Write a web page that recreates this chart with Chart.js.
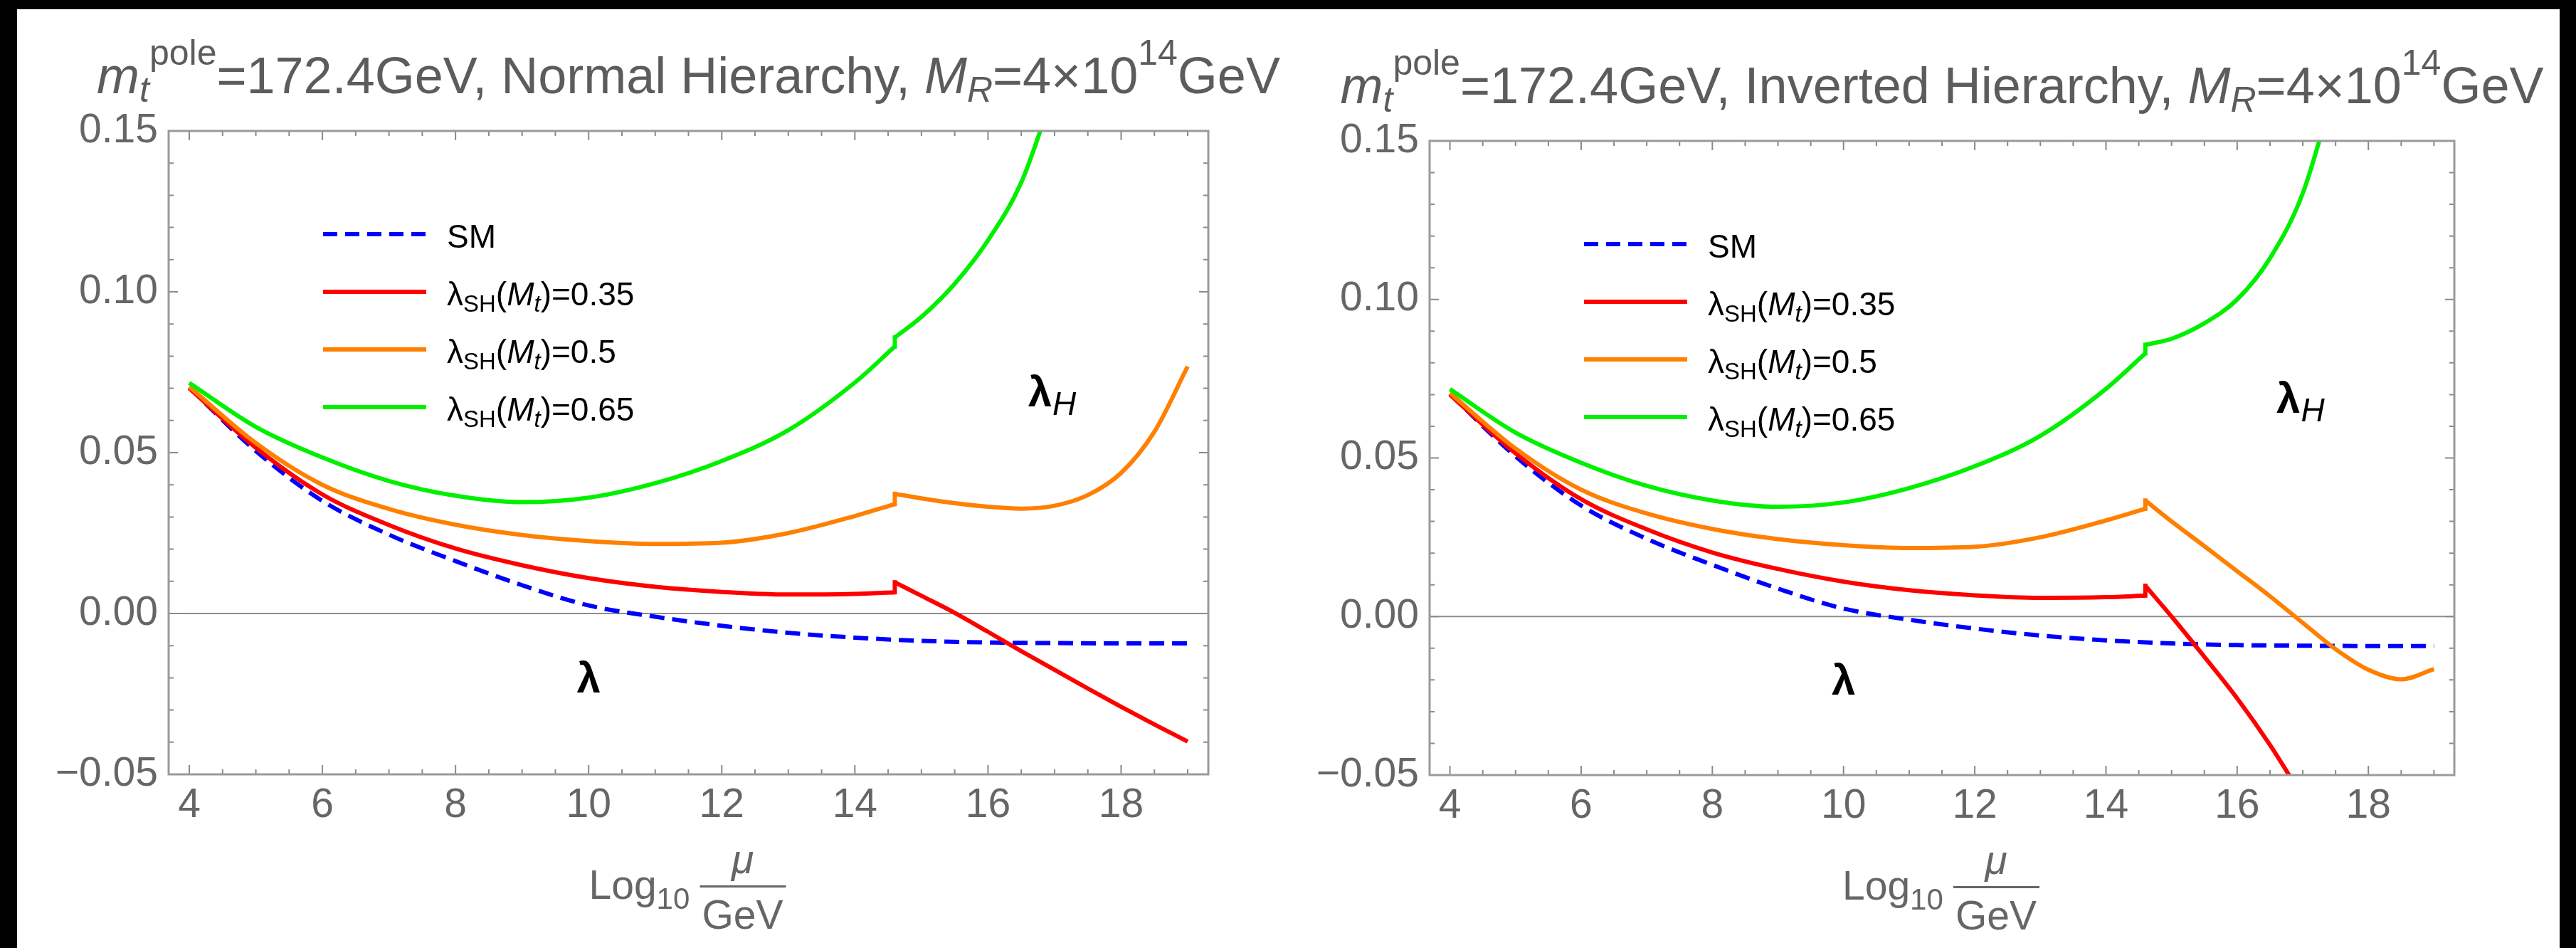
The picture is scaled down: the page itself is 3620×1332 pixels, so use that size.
<!DOCTYPE html>
<html>
<head>
<meta charset="utf-8">
<script src="https://cdn.jsdelivr.net/npm/chart.js@4.4.1/dist/chart.umd.min.js"></script>
<style>
  html, body { margin: 0; padding: 0; background: #000; }
  body { width: 3620px; height: 1332px; position: relative; overflow: hidden; }
  #sheet { position: absolute; left: 24px; top: 13px; width: 3573px; height: 1319px; background: #fff; }
  canvas { position: absolute; top: 0; }
</style>
</head>
<body>
<div id="sheet"></div>
<canvas id="nh" width="1810" height="1332" style="left:0px"></canvas>
<canvas id="ih" width="1810" height="1332" style="left:1810px"></canvas>
<script>
const FONT = '"Liberation Sans", Arial, Helvetica, sans-serif';

// log10(mu/GeV) grids: below and above M_R = 4x10^14 GeV
const xLow = [4, 5, 6, 7, 8, 9, 10, 11, 12, 13, 14, 14.6];
const xHigh = [14.6, 15, 15.5, 16, 16.5, 17, 17.5, 18, 18.5, 19];
const xSM = [4, 5, 6, 7, 8, 9, 10, 11, 12, 13, 14, 15, 16, 17, 18, 19];

// SM lambda (dashed)
const smLambda = [0.0702, 0.0505, 0.0350, 0.0245, 0.0163, 0.0088, 0.0025, -0.0010,
  -0.0038, -0.0060, -0.0075, -0.0085, -0.0090, -0.0092, -0.0093, -0.0093];

// lambda below M_R (same for both hierarchies)
const redLow = [0.0700, 0.0515, 0.0370, 0.0275, 0.0202, 0.0150, 0.0110, 0.0083, 0.0067, 0.0059, 0.0061, 0.0066];
const orangeLow = [0.0705, 0.0530, 0.0400, 0.0325, 0.0276, 0.0244, 0.0225, 0.0216, 0.0220, 0.0250, 0.0303, 0.0340];
const greenLow = [0.0717, 0.0580, 0.0485, 0.0412, 0.0366, 0.0346, 0.0360, 0.0405, 0.0474, 0.0570, 0.0718, 0.0830];

// lambda_H above M_R, normal hierarchy
const redHighNH = [0.0097, 0.0055, 0.0002, -0.0057, -0.0117, -0.0175, -0.0233, -0.0290, -0.0345, -0.0398];
const orangeHighNH = [0.0372, 0.0358, 0.0343, 0.0332, 0.0326, 0.0335, 0.0368, 0.0437, 0.0565, 0.0768];
const greenHighNH = [0.0858, 0.0922, 0.1025, 0.1160, 0.1340, 0.1630];

// lambda_H above M_R, inverted hierarchy
const redHighIH = [0.0097, 0.0000, -0.0127, -0.0258, -0.0405, -0.0570];
const orangeHighIH = [0.0366, 0.0300, 0.0222, 0.0143, 0.0064, -0.0020, -0.0103, -0.0168, -0.0198, -0.0166];
const greenHighIH = [0.0857, 0.0876, 0.0925, 0.1000, 0.1130, 0.1335, 0.1680];

const xTicks = [4, 6, 8, 10, 12, 14, 16, 18];
const xTickLabels = ['4', '6', '8', '10', '12', '14', '16', '18'];
const yTicks = [-0.05, 0, 0.05, 0.1, 0.15];
const yTickLabels = ['\u22120.05', '0.00', '0.05', '0.10', '0.15'];
const lamSHValues = ['0.35', '0.5', '0.65'];

const BLUE = '#0000ff', RED = '#ff0000', ORANGE = '#ff8000', GREEN = '#00f000';
const DASH = [21, 11];

function zip(xs, ys) {
  return ys.map((y, i) => ({ x: xs[i], y: y }));
}

function line(data, color, dash) {
  return {
    data: data,
    borderColor: color,
    borderWidth: 6,
    borderDash: dash || [],
    borderCapStyle: 'butt',
    pointRadius: 0,
    fill: false,
    cubicInterpolationMode: 'monotone',
    clip: 0
  };
}

// one coupling: curve below M_R, the jump at M_R, curve above M_R
function coupling(color, low, high) {
  const jump = line([{ x: xLow[xLow.length - 1], y: low[low.length - 1] }, { x: xHigh[0], y: high[0] }], color);
  jump.borderCapStyle = 'square';
  return [line(zip(xLow, low), color), jump, line(zip(xHigh, high), color)];
}

function richText(ctx, parts, x, y, align) {
  let w = 0;
  parts.forEach(p => {
    ctx.font = (p.i ? 'italic ' : '') + p.s + 'px ' + FONT;
    p.w = ctx.measureText(p.t).width;
    w += p.w;
  });
  let cx = align === 'center' ? x - w / 2 : x;
  ctx.textAlign = 'left';
  ctx.textBaseline = 'alphabetic';
  parts.forEach(p => {
    ctx.font = (p.i ? 'italic ' : '') + p.s + 'px ' + FONT;
    ctx.fillText(p.t, cx, y + (p.dy || 0));
    cx += p.w;
  });
}

const decor = {
  id: 'decor',
  beforeDatasetsDraw(chart) {
    const { ctx, chartArea: a, scales: { y } } = chart;
    const y0 = y.getPixelForValue(0);
    ctx.save();
    ctx.strokeStyle = '#8c8c8c';
    ctx.lineWidth = 2;
    ctx.beginPath();
    ctx.moveTo(a.left, y0);
    ctx.lineTo(a.right, y0);
    ctx.stroke();
    ctx.restore();
  },
  afterDatasetsDraw(chart) {
    const { ctx, chartArea: a, scales: { x, y } } = chart;
    ctx.save();
    ctx.strokeStyle = '#8a8a8a';
    ctx.lineWidth = 2;
    ctx.beginPath();
    for (let k = 8; k <= 38; k++) {
      const v = k / 2;
      const px = x.getPixelForValue(v);
      const len = v % 2 === 0 ? 13 : 7;
      ctx.moveTo(px, a.bottom); ctx.lineTo(px, a.bottom - len);
      ctx.moveTo(px, a.top); ctx.lineTo(px, a.top + len);
    }
    for (let k = -5; k <= 15; k++) {
      const py = y.getPixelForValue(k / 100);
      const len = k % 5 === 0 ? 13 : 7;
      ctx.moveTo(a.left, py); ctx.lineTo(a.left + len, py);
      ctx.moveTo(a.right, py); ctx.lineTo(a.right - len, py);
    }
    ctx.stroke();
    ctx.strokeStyle = '#9a9a9a';
    ctx.lineWidth = 3;
    ctx.strokeRect(a.left, a.top, a.right - a.left, a.bottom - a.top);
    ctx.restore();
  },
  afterDraw(chart, args, opts) {
    const { ctx, chartArea: a, scales: { x, y } } = chart;
    const cx = (a.left + a.right) / 2;
    ctx.save();

    // title
    ctx.fillStyle = '#5c5c5c';
    richText(ctx, [
      { t: 'm', s: 72, i: 1 }, { t: 't', s: 50, i: 1, dy: 12 }, { t: 'pole', s: 50, dy: -40 },
      { t: '=172.4GeV, ' + opts.hierarchy + ' Hierarchy, ', s: 72 },
      { t: 'M', s: 72, i: 1 }, { t: 'R', s: 50, i: 1, dy: 12 },
      { t: '=4\u00d710', s: 72 }, { t: '14', s: 50, dy: -40 }, { t: 'GeV', s: 72 }
    ], cx, a.top - 53, 'center');

    // x axis label: Log10 mu/GeV
    ctx.fillStyle = '#666';
    richText(ctx, [{ t: 'Log', s: 57 }, { t: '10', s: 42, dy: 14 }], cx - 140, a.bottom + 175);
    ctx.fillRect(cx + 16, a.bottom + 156, 121, 3);
    ctx.textAlign = 'center';
    ctx.font = 'italic 57px ' + FONT;
    ctx.fillText('\u03bc', cx + 76, a.bottom + 139);
    ctx.font = '57px ' + FONT;
    ctx.fillText('GeV', cx + 76, a.bottom + 217);

    // legend
    const lx0 = a.left + 217, lx1 = a.left + 362, tx = a.left + 391;
    const rows = [BLUE, RED, ORANGE, GREEN];
    rows.forEach((color, i) => {
      const ly = a.top + 145 + i * 81;
      ctx.strokeStyle = color;
      ctx.lineWidth = 6;
      ctx.setLineDash(i === 0 ? [20, 11] : []);
      ctx.beginPath();
      ctx.moveTo(lx0, ly);
      ctx.lineTo(lx1, ly);
      ctx.stroke();
      ctx.fillStyle = '#000';
      if (i === 0) {
        richText(ctx, [{ t: 'SM', s: 46 }], tx, ly + 19);
      } else {
        richText(ctx, [
          { t: '\u03bb', s: 46 }, { t: 'SH', s: 33, dy: 9 }, { t: '(', s: 46 },
          { t: 'M', s: 46, i: 1 }, { t: 't', s: 33, i: 1, dy: 9 },
          { t: ')=' + lamSHValues[i - 1], s: 46 }
        ], tx, ly + 19);
      }
    });
    ctx.setLineDash([]);

    // curve labels
    ctx.fillStyle = '#000';
    ctx.font = 'bold 60px ' + FONT;
    ctx.textAlign = 'center';
    ctx.textBaseline = 'middle';
    ctx.fillText('\u03bb', x.getPixelForValue(opts.lamAt[0]), y.getPixelForValue(opts.lamAt[1]));
    const hx = x.getPixelForValue(opts.lamHAt[0]), hy = y.getPixelForValue(opts.lamHAt[1]);
    ctx.fillText('\u03bb', hx, hy);
    const lw = ctx.measureText('\u03bb').width;
    ctx.textAlign = 'left';
    ctx.font = 'italic 46px ' + FONT;
    ctx.fillText('H', hx + lw / 2 + 1, hy + 16);
    ctx.restore();
  }
};

function makeChart(id, hierarchy, redHigh, orangeHigh, greenHigh, area) {
  const datasets = [].concat(
    coupling(GREEN, greenLow, greenHigh),
    coupling(ORANGE, orangeLow, orangeHigh),
    coupling(RED, redLow, redHigh),
    [line(zip(xSM, smLambda), BLUE, DASH)]
  );
  return new Chart(document.getElementById(id), {
    type: 'line',
    data: { datasets: datasets },
    plugins: [decor],
    options: {
      responsive: false,
      animation: false,
      devicePixelRatio: 1,
      events: [],
      layout: { padding: { top: area.top, right: area.right, bottom: 0, left: 0 } },
      plugins: {
        legend: { display: false },
        tooltip: { enabled: false },
        decor: { hierarchy: hierarchy, lamAt: [10.0, -0.021], lamHAt: [16.78, 0.068] }
      },
      scales: {
        x: {
          type: 'linear',
          min: 3.69,
          max: 19.31,
          afterBuildTicks: s => { s.ticks = xTicks.map(v => ({ value: v })); },
          afterFit: s => { s.height = area.xh; },
          grid: { display: false, drawTicks: false },
          border: { display: false },
          ticks: {
            autoSkip: false,
            maxRotation: 0,
            padding: 10,
            color: '#666',
            font: { family: FONT, size: 57 },
            callback: (v, i) => xTickLabels[i]
          }
        },
        y: {
          type: 'linear',
          min: -0.05,
          max: 0.15,
          afterBuildTicks: s => { s.ticks = yTicks.map(v => ({ value: v })); },
          afterFit: s => { s.width = area.yw; },
          grid: { display: false, drawTicks: false },
          border: { display: false },
          ticks: {
            padding: 15,
            color: '#666',
            font: { family: FONT, size: 57 },
            callback: (v, i) => yTickLabels[i]
          }
        }
      }
    }
  });
}

makeChart('nh', 'Normal', redHighNH, orangeHighNH, greenHighNH, { top: 184, right: 112, xh: 244, yw: 237 });
makeChart('ih', 'Inverted', redHighIH, orangeHighIH, greenHighIH, { top: 198, right: 171, xh: 243, yw: 199 });
</script>
</body>
</html>
